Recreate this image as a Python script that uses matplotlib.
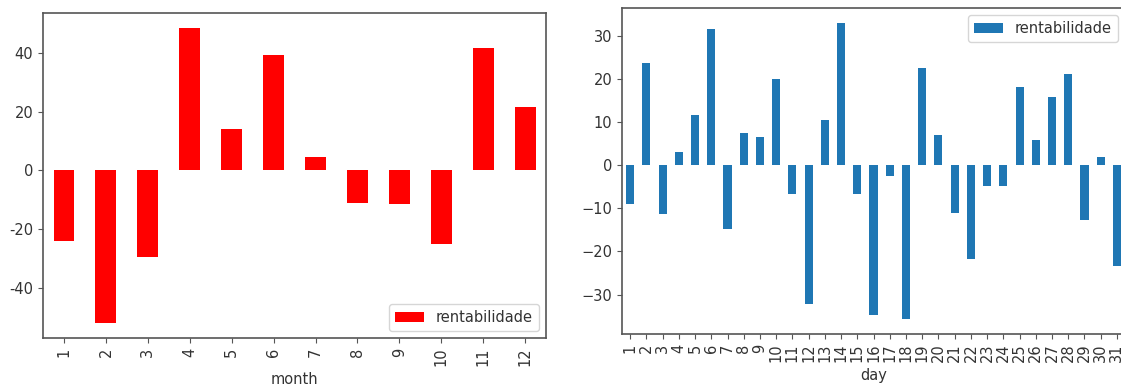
import numpy as np
import matplotlib
matplotlib.use("Agg")
import matplotlib.pyplot as plt
from matplotlib.ticker import FuncFormatter

# Rentabilidade acumulada por mês e por dia do mês
months = list(range(1, 13))
rent_month = [-24.1, -52.0, -29.4, 48.5, 13.9, 39.2, 4.6, -11.0, -11.4, -25.2, 41.7, 21.4]

days = list(range(1, 32))
rent_day = [-8.9, 23.7, -11.2, 3.1, 11.7, 31.6, -14.8, 7.5, 6.6, 20.1,
            -6.7, -32.1, 10.4, 33.0, -6.7, -34.8, -2.6, -35.7, 22.5, 7.0,
            -11.0, -21.8, -4.8, -4.8, 18.1, 5.9, 15.8, 21.2, -12.6, 1.8, -23.3]

SPINE = "#555555"
TEXT = "#333333"

plt.rcParams["font.size"] = 10.5
plt.rcParams["text.color"] = TEXT
plt.rcParams["axes.labelcolor"] = TEXT
plt.rcParams["xtick.color"] = TEXT
plt.rcParams["ytick.color"] = TEXT


def bar_panel(ax, labels, values, color, xlabel, legend_loc):
    pos = np.arange(len(labels))
    ax.bar(pos, values, width=0.5, color=color, label="rentabilidade")
    ax.set_xlim(-0.5, len(labels) - 0.5)
    ax.set_xticks(pos)
    ax.set_xticklabels([str(v) for v in labels], rotation=90)
    ax.set_xlabel(xlabel)
    for s in ax.spines.values():
        s.set_color(SPINE)
        s.set_linewidth(1.2)
    ax.tick_params(color=SPINE)
    ax.legend(loc=legend_loc)


fig = plt.figure(figsize=(11.21, 3.87), dpi=100)

# gráfico mensal (hífen simples nos rótulos negativos)
ax1 = fig.add_axes([0.0384, 0.1266, 0.4487, 0.8398])
bar_panel(ax1, months, rent_month, "red", "month", "lower right")
ax1.yaxis.set_major_formatter(FuncFormatter(lambda v, p: f"{v:.0f}"))

# gráfico diário, cortado na borda direita
ax2 = fig.add_axes([0.5549, 0.137, 0.4487, 0.842])
bar_panel(ax2, days, rent_day, "#1f77b4", "day", "upper right")

fig.savefig("out.png", dpi=100)
